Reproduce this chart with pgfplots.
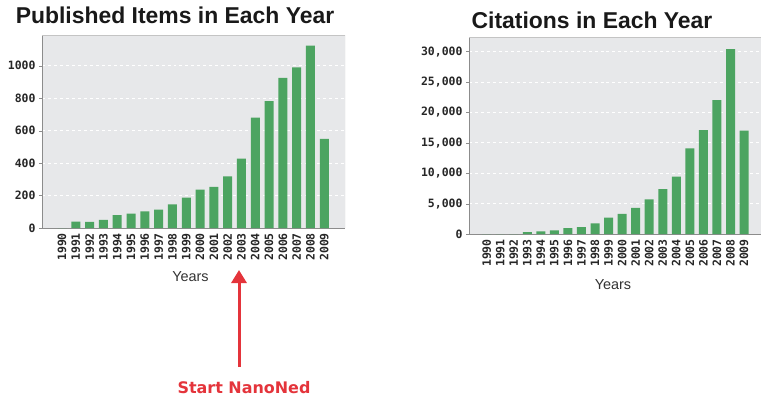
\documentclass[border=0pt]{standalone}
\usepackage{pgfplots}
\pgfplotsset{compat=1.18}
\usepackage{fontspec}
\setmainfont{Liberation Sans}
\newfontfamily\tickfont{DejaVu Sans Mono}
\newfontfamily\notefont{DejaVu Sans}
\usetikzlibrary{arrows.meta}

\definecolor{bargreen}{HTML}{4CA461}
\definecolor{plotbg}{HTML}{E7E8EA}
\definecolor{axisgray}{HTML}{8C8C8C}
\definecolor{framegray}{HTML}{C4C4C4}
\definecolor{notered}{HTML}{E4343B}

\pgfplotsset{
  yearbars/.style={
    scale only axis,
    ybar, bar width=9bp, ymin=0,
    xtick=data,
    xticklabels={1990,1991,1992,1993,1994,1995,1996,1997,1998,1999,
                 2000,2001,2002,2003,2004,2005,2006,2007,2008,2009},
    axis background/.style={fill=plotbg},
    ymajorgrids, grid style={white, dashed, line width=0.8pt},
    axis x line*=bottom, axis y line*=left,
    axis line style={axisgray, -},
    xtick style={draw=none},
    ytick style={axisgray}, tick align=outside, major tick length=3bp,
    tick label style={font=\tickfont\bfseries\fontsize{11.5}{11.5}\selectfont, text=black!85},
    xticklabel style={rotate=90, anchor=east, inner sep=2bp},
    /pgf/number format/assume math mode=true,
    scaled y ticks=false,
    xlabel={Years},
    xlabel style={font=\fontsize{14.5}{14.5}\selectfont, text=black!80, anchor=center},
  },
  yearbar/.style={fill=bargreen, draw=none},
}

\begin{document}
\begin{tikzpicture}
\path[use as bounding box] (0,0) rectangle (761bp,-400bp);

% Published items per year
\node[font=\bfseries\fontsize{23}{24}\selectfont, text=black!90] at (175bp,-15bp)
  {Published Items in Each Year};
\begin{axis}[yearbars,
  at={(42bp,-228bp)}, anchor=south west,
  width=303bp, height=193bp,
  xmin=-1.45, xmax=20.5, ymax=1190,
  ytick={0,200,...,1000},
  /pgf/number format/1000 sep={},
  xlabel style={at={(axis description cs:0.49,-0.254)}},
]
\addplot[yearbar] coordinates {
  (0,0) (1,40) (2,38) (3,50) (4,80) (5,88) (6,103) (7,113) (8,145) (9,188)
  (10,237) (11,253) (12,318) (13,428) (14,680) (15,783) (16,925) (17,990)
  (18,1125) (19,550)};
\draw[framegray] (rel axis cs:0,1) -- (rel axis cs:1,1) -- (rel axis cs:1,0);
\end{axis}

% Citations per year
\node[font=\bfseries\fontsize{23}{24}\selectfont, text=black!90] at (592bp,-20bp)
  {Citations in Each Year};
\begin{axis}[yearbars,
  at={(469bp,-234bp)}, anchor=south west,
  width=292bp, height=197bp,
  xmin=-1.3, xmax=20.25, ymax=32400,
  ytick={0,5000,...,30000},
  /pgf/number format/1000 sep={,},
  xlabel style={at={(axis description cs:0.493,-0.259)}},
]
\addplot[yearbar] coordinates {
  (0,0) (1,0) (2,0) (3,300) (4,450) (5,600) (6,950) (7,1150) (8,1750) (9,2700)
  (10,3300) (11,4300) (12,5700) (13,7400) (14,9450) (15,14100) (16,17100)
  (17,22000) (18,30400) (19,17000)};
\draw[framegray] (rel axis cs:0,1) -- (rel axis cs:1,1);
\end{axis}

% NanoNed start marker
\draw[notered, line width=3bp, -{Triangle[width=15bp,length=13bp]}]
  (239bp,-367bp) -- (239bp,-270bp);
\node[notered, font=\notefont\bfseries\fontsize{16}{16}\selectfont] at (244bp,-388bp)
  {Start NanoNed};
\end{tikzpicture}
\end{document}
